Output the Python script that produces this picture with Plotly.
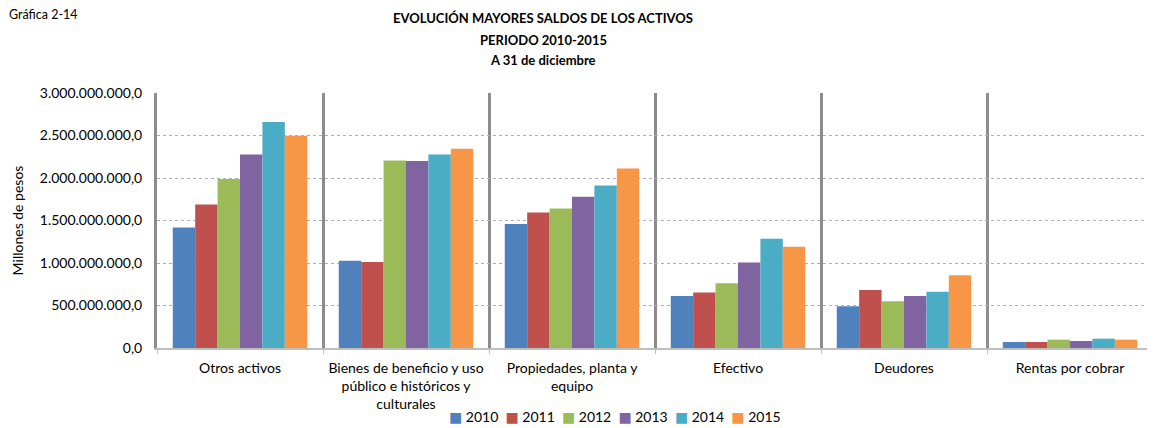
import plotly.graph_objects as go

categories = ["Otros activos",
              "Bienes de beneficio y uso<br>público e históricos y<br>culturales",
              "Propiedades, planta y<br>equipo",
              "Efectivo", "Deudores", "Rentas por cobrar"]
years = ["2010", "2011", "2012", "2013", "2014", "2015"]
colors = ["#4F81BD", "#C0504D", "#9BBB59", "#8064A2", "#4BACC6", "#F79646"]

v2010 = [1.417e9, 1.025e9, 1.460e9, 0.612e9, 0.491e9, 0.071e9]
v2011 = [1.688e9, 1.013e9, 1.594e9, 0.652e9, 0.683e9, 0.071e9]
v2012 = [1.987e9, 2.206e9, 1.641e9, 0.762e9, 0.550e9, 0.098e9]
v2013 = [2.277e9, 2.200e9, 1.779e9, 1.005e9, 0.612e9, 0.082e9]
v2014 = [2.658e9, 2.277e9, 1.912e9, 1.284e9, 0.663e9, 0.110e9]
v2015 = [2.497e9, 2.344e9, 2.112e9, 1.190e9, 0.856e9, 0.098e9]
series = [v2010, v2011, v2012, v2013, v2014, v2015]

ytickvals = [0, 5e8, 1e9, 1.5e9, 2e9, 2.5e9, 3e9]
yticktext = ["0,0", "500.000.000,0", "1.000.000.000,0", "1.500.000.000,0",
             "2.000.000.000,0", "2.500.000.000,0", "3.000.000.000,0"]

title_lines = ["EVOLUCIÓN MAYORES SALDOS DE LOS ACTIVOS", "PERIODO 2010-2015", "A 31 de diciembre"]

FONT = "Lato"
OFF = 8  # default page body margin
L, R, T, B = 157 - OFF, 2, 93 - OFF, 80
W, H = 1155 - OFF, 428 - OFF
PW, PH = W - L - R, H - T - B

def px_x(x):
    return (x - OFF - L) / PW

def px_y(y):
    return (H - B - (y - OFF)) / PH

fig = go.Figure()
for yr, vals, c in zip(years, series, colors):
    fig.add_trace(go.Bar(name=yr, x=categories, y=vals, marker_color=c,
                         marker_line_width=0, showlegend=False))

fig.update_layout(
    width=W, height=H,
    margin=dict(l=L, r=R, t=T, b=B, autoexpand=False),
    paper_bgcolor="white", plot_bgcolor="white",
    barmode="group", bargap=0.19, bargroupgap=0,
    font=dict(family=FONT, size=14, color="#000"),
    showlegend=False,
)
fig.update_xaxes(type="category", tickson="boundaries", showgrid=True,
                 gridcolor="#8c8c8c", gridwidth=3,
                 showline=True, linecolor="#bfbfbf", linewidth=2,
                 ticks="outside", ticklen=4, tickcolor="#bfbfbf",
                 tickfont=dict(size=14), automargin=False, ticklabelstandoff=6)
fig.update_yaxes(range=[0, 3e9], tickvals=ytickvals, ticktext=yticktext,
                 showgrid=True, gridcolor="#b0b0b0", gridwidth=1, griddash="dot",
                 showline=True, linecolor="#8c8c8c", linewidth=3,
                 zeroline=False, ticks="", tickfont=dict(size=14), automargin=False,
                 ticklabelstandoff=9,
                 title=dict(text="Millones de pesos", font=dict(size=14), standoff=13))

# legend (built from the years / colors lists)
sep = "&nbsp;" * 2
legend_text = sep.join(
    f"<span style='color:{c};font-family:DejaVu Sans'>■</span> {yr}" for yr, c in zip(years, colors)
)
fig.add_annotation(text=legend_text, xref="paper", yref="paper",
                   x=px_x(615), y=px_y(416), xanchor="center", yanchor="middle",
                   showarrow=False, font=dict(size=14))

for txt, yy in zip(title_lines, [18, 40, 60]):
    fig.add_annotation(text="<b>" + txt + "</b>", xref="paper", yref="paper",
                       x=px_x(543), y=px_y(yy), xanchor="center", yanchor="middle",
                       showarrow=False, font=dict(size=13))

fig.add_annotation(text="Gráfica 2-14", xref="paper", yref="paper",
                   x=px_x(7), y=px_y(14), xanchor="left", yanchor="middle",
                   showarrow=False, font=dict(size=12.5))

fig.write_html("out.html")
